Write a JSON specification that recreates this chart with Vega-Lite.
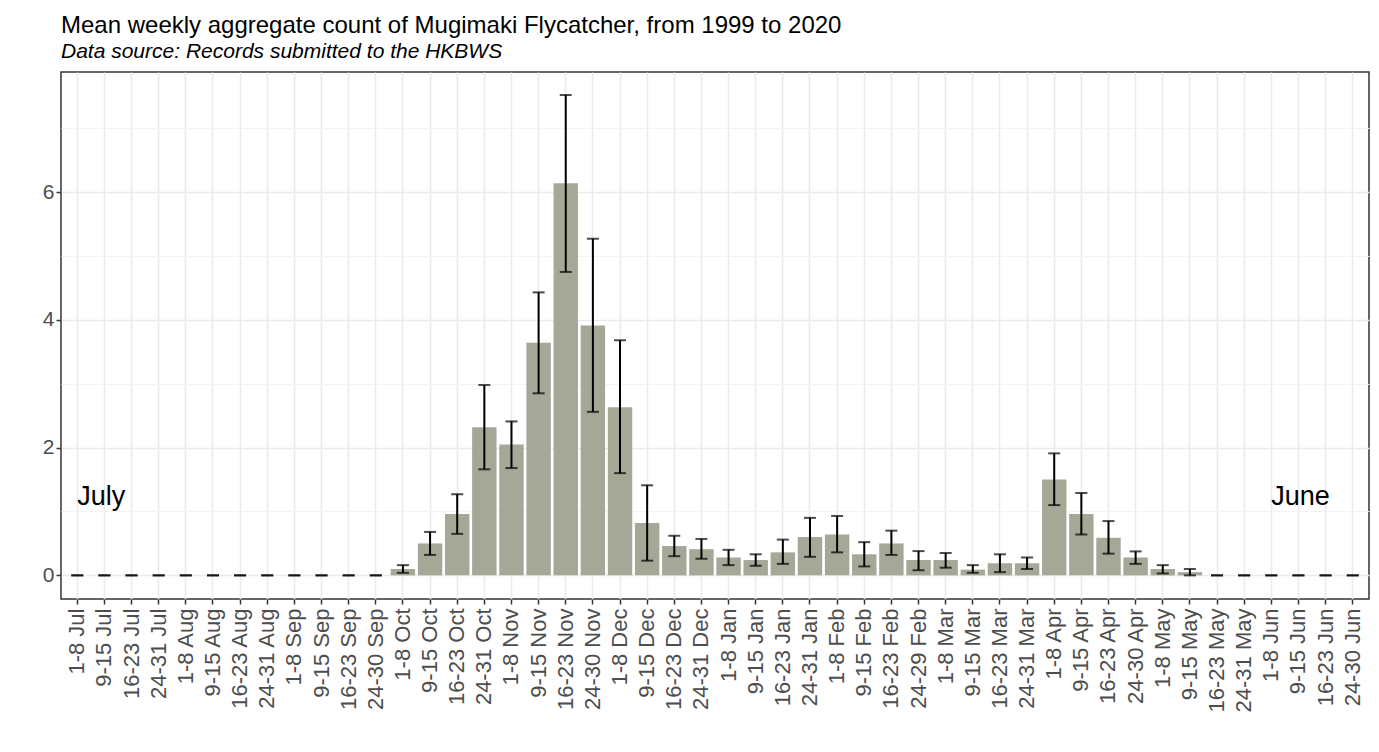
{
  "$schema": "https://vega.github.io/schema/vega-lite/v6.json",
  "width": 1308,
  "height": 527,
  "autosize": {"type": "none"},
  "padding": {"left": 61, "top": 72, "right": 10, "bottom": 153},
  "background": "white",
  "title": {
    "text": "Mean weekly aggregate count of Mugimaki Flycatcher, from 1999 to 2020",
    "subtitle": "Data source: Records submitted to the HKBWS",
    "anchor": "start",
    "frame": "group",
    "font": "Liberation Sans",
    "fontSize": 24,
    "fontWeight": "normal",
    "color": "black",
    "subtitleFont": "Liberation Sans",
    "subtitleFontSize": 21,
    "subtitleFontStyle": "italic",
    "subtitleColor": "black",
    "subtitlePadding": 3,
    "offset": 10
  },
  "datasets": {
    "weeks": [
      {"week": "1-8 Jul", "mean": 0, "lo": 0, "hi": 0},
      {"week": "9-15 Jul", "mean": 0, "lo": 0, "hi": 0},
      {"week": "16-23 Jul", "mean": 0, "lo": 0, "hi": 0},
      {"week": "24-31 Jul", "mean": 0, "lo": 0, "hi": 0},
      {"week": "1-8 Aug", "mean": 0, "lo": 0, "hi": 0},
      {"week": "9-15 Aug", "mean": 0, "lo": 0, "hi": 0},
      {"week": "16-23 Aug", "mean": 0, "lo": 0, "hi": 0},
      {"week": "24-31 Aug", "mean": 0, "lo": 0, "hi": 0},
      {"week": "1-8 Sep", "mean": 0, "lo": 0, "hi": 0},
      {"week": "9-15 Sep", "mean": 0, "lo": 0, "hi": 0},
      {"week": "16-23 Sep", "mean": 0, "lo": 0, "hi": 0},
      {"week": "24-30 Sep", "mean": 0, "lo": 0, "hi": 0},
      {"week": "1-8 Oct", "mean": 0.1, "lo": 0.04, "hi": 0.16},
      {"week": "9-15 Oct", "mean": 0.5, "lo": 0.32, "hi": 0.68},
      {"week": "16-23 Oct", "mean": 0.96, "lo": 0.65, "hi": 1.27},
      {"week": "24-31 Oct", "mean": 2.32, "lo": 1.66, "hi": 2.98},
      {"week": "1-8 Nov", "mean": 2.05, "lo": 1.68, "hi": 2.41},
      {"week": "9-15 Nov", "mean": 3.64, "lo": 2.85, "hi": 4.43},
      {"week": "16-23 Nov", "mean": 6.14, "lo": 4.75, "hi": 7.52},
      {"week": "24-30 Nov", "mean": 3.91, "lo": 2.56, "hi": 5.27},
      {"week": "1-8 Dec", "mean": 2.63, "lo": 1.6, "hi": 3.68},
      {"week": "9-15 Dec", "mean": 0.82, "lo": 0.23, "hi": 1.41},
      {"week": "16-23 Dec", "mean": 0.46, "lo": 0.3, "hi": 0.62},
      {"week": "24-31 Dec", "mean": 0.41, "lo": 0.26, "hi": 0.57},
      {"week": "1-8 Jan", "mean": 0.28, "lo": 0.16, "hi": 0.4},
      {"week": "9-15 Jan", "mean": 0.24, "lo": 0.15, "hi": 0.33},
      {"week": "16-23 Jan", "mean": 0.36, "lo": 0.18, "hi": 0.56},
      {"week": "24-31 Jan", "mean": 0.6, "lo": 0.29, "hi": 0.9},
      {"week": "1-8 Feb", "mean": 0.64, "lo": 0.36, "hi": 0.93},
      {"week": "9-15 Feb", "mean": 0.33, "lo": 0.14, "hi": 0.52},
      {"week": "16-23 Feb", "mean": 0.5, "lo": 0.32, "hi": 0.7},
      {"week": "24-29 Feb", "mean": 0.24, "lo": 0.08, "hi": 0.38},
      {"week": "1-8 Mar", "mean": 0.24, "lo": 0.12, "hi": 0.35},
      {"week": "9-15 Mar", "mean": 0.09, "lo": 0.04, "hi": 0.16},
      {"week": "16-23 Mar", "mean": 0.19, "lo": 0.05, "hi": 0.33},
      {"week": "24-31 Mar", "mean": 0.19, "lo": 0.1, "hi": 0.28},
      {"week": "1-8 Apr", "mean": 1.5, "lo": 1.1, "hi": 1.91},
      {"week": "9-15 Apr", "mean": 0.96, "lo": 0.64, "hi": 1.29},
      {"week": "16-23 Apr", "mean": 0.59, "lo": 0.34, "hi": 0.85},
      {"week": "24-30 Apr", "mean": 0.28, "lo": 0.18, "hi": 0.375},
      {"week": "1-8 May", "mean": 0.1, "lo": 0.03, "hi": 0.16},
      {"week": "9-15 May", "mean": 0.05, "lo": 0.0, "hi": 0.1},
      {"week": "16-23 May", "mean": 0, "lo": 0, "hi": 0},
      {"week": "24-31 May", "mean": 0, "lo": 0, "hi": 0},
      {"week": "1-8 Jun", "mean": 0, "lo": 0, "hi": 0},
      {"week": "9-15 Jun", "mean": 0, "lo": 0, "hi": 0},
      {"week": "16-23 Jun", "mean": 0, "lo": 0, "hi": 0},
      {"week": "24-30 Jun", "mean": 0, "lo": 0, "hi": 0}
    ],
    "notes": [
      {"label": "July", "week": "1-8 Jul", "y": 1.22},
      {"label": "June", "week": "1-8 Jun", "y": 1.22}
    ]
  },
  "data": {"name": "weeks"},
  "encoding": {
    "x": {
      "field": "week",
      "type": "nominal",
      "sort": null,
      "title": null,
      "scale": {
        "paddingInner": 0.1,
        "paddingOuter": 0.15,
        "domain": [
          "1-8 Jul", "9-15 Jul", "16-23 Jul", "24-31 Jul",
          "1-8 Aug", "9-15 Aug", "16-23 Aug", "24-31 Aug",
          "1-8 Sep", "9-15 Sep", "16-23 Sep", "24-30 Sep",
          "1-8 Oct", "9-15 Oct", "16-23 Oct", "24-31 Oct",
          "1-8 Nov", "9-15 Nov", "16-23 Nov", "24-30 Nov",
          "1-8 Dec", "9-15 Dec", "16-23 Dec", "24-31 Dec",
          "1-8 Jan", "9-15 Jan", "16-23 Jan", "24-31 Jan",
          "1-8 Feb", "9-15 Feb", "16-23 Feb", "24-29 Feb",
          "1-8 Mar", "9-15 Mar", "16-23 Mar", "24-31 Mar",
          "1-8 Apr", "9-15 Apr", "16-23 Apr", "24-30 Apr",
          "1-8 May", "9-15 May", "16-23 May", "24-31 May",
          "1-8 Jun", "9-15 Jun", "16-23 Jun", "24-30 Jun"
        ]
      },
      "axis": {
        "labelAngle": -90,
        "bandPosition": 0.5,
        "labelPadding": 4,
        "labelFontSize": 22,
        "grid": true,
        "gridColor": "#EBEBEB",
        "gridWidth": 1.6
      }
    }
  },
  "layer": [
    {
      "mark": {"type": "bar", "color": "#A6A897"},
      "encoding": {
        "y": {
          "field": "mean",
          "type": "quantitative",
          "title": null,
          "scale": {"domain": [-0.37, 7.88], "nice": false, "zero": false},
          "axis": {
            "values": [0, 1, 2, 3, 4, 5, 6, 7],
            "format": "d",
            "labelFontSize": 21,
            "labelExpr": "datum.value % 2 === 0 ? datum.label : ''",
            "gridColor": {"condition": {"test": "datum.value % 2 === 0", "value": "#EBEBEB"}, "value": "#F3F3F3"},
            "gridWidth": {"condition": {"test": "datum.value % 2 === 0", "value": 1.6}, "value": 1},
            "tickOpacity": {"condition": {"test": "datum.value % 2 === 0", "value": 1}, "value": 0}
          }
        },
        "y2": {"datum": 0}
      }
    },
    {
      "mark": {"type": "rule", "color": "black", "strokeWidth": 2},
      "encoding": {
        "y": {"field": "lo", "type": "quantitative"},
        "y2": {"field": "hi"}
      }
    },
    {
      "mark": {"type": "tick", "color": "black", "size": 12, "thickness": 2},
      "encoding": {"y": {"field": "lo", "type": "quantitative"}}
    },
    {
      "mark": {"type": "tick", "color": "black", "size": 12, "thickness": 2},
      "encoding": {"y": {"field": "hi", "type": "quantitative"}}
    },
    {
      "data": {"name": "notes"},
      "mark": {"type": "text", "align": "left", "baseline": "middle", "font": "Liberation Sans", "fontSize": 27, "color": "black"},
      "encoding": {
        "y": {"field": "y", "type": "quantitative"},
        "text": {"field": "label"}
      }
    }
  ],
  "config": {
    "view": {"stroke": "#333333", "strokeWidth": 1.5},
    "axis": {
      "domain": false,
      "labelFont": "Liberation Sans",
      "labelFontSize": 20,
      "labelColor": "#4D4D4D",
      "tickColor": "#333333",
      "tickSize": 5,
      "tickWidth": 1.5
    }
  }
}
